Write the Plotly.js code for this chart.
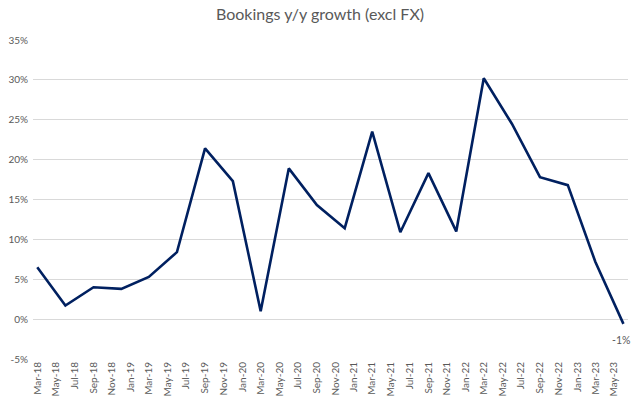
<!DOCTYPE html>
<html>
<head>
<meta charset="utf-8">
<script src="https://cdn.plot.ly/plotly-3.0.1.min.js"></script>
<style>html,body{margin:0;padding:0;background:#fff;}#chart{width:640px;height:402px;}</style>
</head>
<body>
<div id="chart"></div>
<script>
const quarters = ["2018-03-01","2018-06-01","2018-09-01","2018-12-01","2019-03-01","2019-06-01","2019-09-01","2019-12-01","2020-03-01","2020-06-01","2020-09-01","2020-12-01","2021-03-01","2021-06-01","2021-09-01","2021-12-01","2022-03-01","2022-06-01","2022-09-01","2022-12-01","2023-03-01","2023-06-01"];
const growthPct = [6.5,1.7,4.0,3.8,5.3,8.4,21.4,17.3,1.0,18.9,14.3,11.4,23.5,10.9,18.3,11.0,30.2,24.5,17.8,16.8,7.2,-0.6];
const yTickVals = [-5,0,5,10,15,20,25,30,35];
const yTickText = ["-5%","0%","5%","10%","15%","20%","25%","30%","35%"];

const last = growthPct.length - 1;
const font = "Lato, 'Open Sans', sans-serif";
Plotly.newPlot('chart', [{
  x: quarters, y: growthPct, type: 'scatter', mode: 'lines',
  line: {color: '#002060', width: 2.6},
  cliponaxis: false, hoverinfo: 'skip'
}], {
  width: 640, height: 402,
  margin: {l: 33, r: 12, t: 40, b: 43},
  paper_bgcolor: '#fff', plot_bgcolor: '#fff',
  showlegend: false,
  title: {text: 'Bookings y/y growth (excl FX)', x: 0.5, xanchor: 'center', y: 0.965, yanchor: 'middle',
          font: {family: font, size: 16, color: '#595959'}},
  annotations: [{
    x: quarters[last], y: growthPct[last], xref: 'x', yref: 'y',
    text: Math.round(growthPct[last]) + '%', showarrow: false,
    xanchor: 'center', yanchor: 'top', xshift: -2, yshift: -8,
    font: {family: font, size: 10.5, color: '#595959'}
  }],
  xaxis: {
    type: 'date', range: ['2018-02-15', '2023-06-16'],
    tick0: '2018-03-01', dtick: 'M2', tickformat: '%b-%y', tickangle: -90,
    showgrid: false, zeroline: false, showline: false, ticks: '',
    tickfont: {family: font, size: 10, color: '#595959'}
  },
  yaxis: {
    range: [-5, 35], tickvals: yTickVals, ticktext: yTickText,
    showgrid: true, gridcolor: '#d9d9d9', gridwidth: 1, zeroline: false,
    showline: false, ticks: '', ticklabelstandoff: 4,
    tickfont: {family: font, size: 10, color: '#595959'}
  }
}, {displayModeBar: false, staticPlot: true});
</script>
</body>
</html>
